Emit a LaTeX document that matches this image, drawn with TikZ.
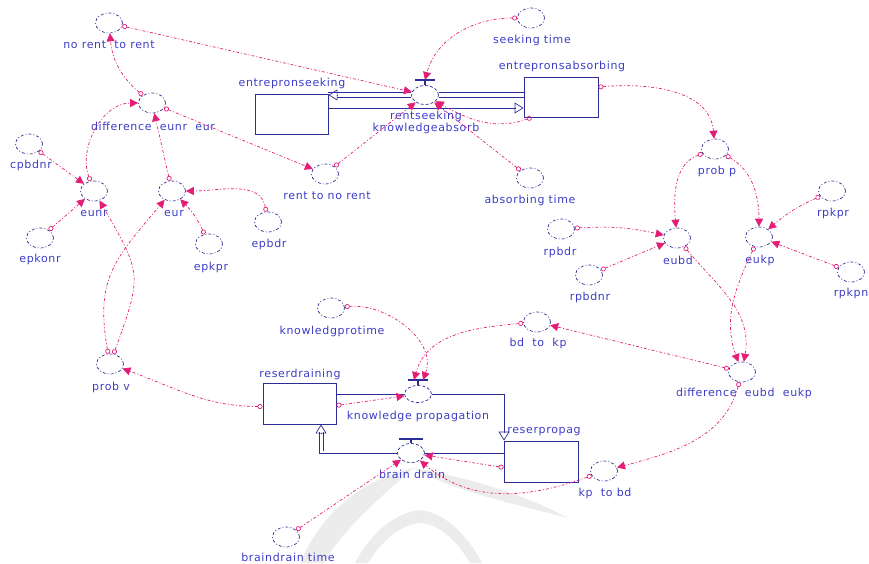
\documentclass[tikz,border=0pt]{standalone}
\usepackage{fontspec}
\setmainfont{DejaVu Sans}
\newfontfamily\lblfont[LetterSpace=6]{DejaVu Sans}
\usetikzlibrary{shapes.geometric,arrows.meta}
\definecolor{navy}{RGB}{45,45,150}
\definecolor{tblue}{RGB}{60,60,200}
\definecolor{cmag}{RGB}{228,30,118}
\definecolor{wmark}{RGB}{236,236,236}
\begin{document}
\begin{tikzpicture}[x=1pt,y=-1pt,
  aux/.style={ellipse, draw=navy, line width=0.7pt, dash pattern=on 3pt off 2pt on 1pt off 2pt, minimum width=27pt, minimum height=20pt, inner sep=0pt},
  valve/.style={ellipse, draw=navy, line width=0.7pt, dash pattern=on 3pt off 2pt, minimum width=27pt, minimum height=19pt, inner sep=0pt},
  stock/.style={rectangle, draw=navy, line width=0.9pt, inner sep=0pt},
  lbl/.style={text=tblue, font=\lblfont\fontsize{11}{13}\selectfont, inner sep=0pt, align=center},
  conn/.style={draw=cmag, line width=0.7pt, dash pattern=on 3pt off 2pt on 1pt off 2pt,
     {Circle[open,length=5pt,width=5pt,line width=0.7pt]}-{Triangle[length=8pt,width=8pt]}},
  pipe1/.style={draw=navy, line width=0.8pt},
  ftip/.style={draw=navy, line width=0.7pt, -{Triangle[open,length=9pt,width=11pt,line width=0.7pt]}},
  tbar/.style={draw=navy, line width=1.2pt},
  wm/.style={fill=wmark, draw=none}
]
\useasboundingbox (0,0) rectangle (869,563);

% faint watermark
\path[wm] (300,563) .. controls (325,505) and (370,478) .. (413,468)
   .. controls (390,490) and (345,525) .. (324,563) -- cycle;
\path[wm] (413,468) .. controls (460,476) and (520,492) .. (568,518)
   .. controls (520,505) and (455,492) .. (413,468) -- cycle;
\path[wm] (355,563) .. controls (372,530) and (398,512) .. (420,510)
   .. controls (442,512) and (466,532) .. (482,563) -- (470,563)
   .. controls (455,538) and (438,524) .. (420,523)
   .. controls (402,524) and (382,540) .. (368,563) -- cycle;

% stocks
\node[stock, minimum width=73pt, minimum height=40pt] (seek) at (291.5,114) {};
\node[lbl] (seek-l) at (292,83) {entrepronseeking};
\node[stock, minimum width=74pt, minimum height=40pt] (absorb) at (561,97) {};
\node[lbl] (absorb-l) at (562,66) {entrepronsabsorbing};
\node[stock, minimum width=73pt, minimum height=41pt] (resd) at (299.5,403.5) {};
\node[lbl] (resd-l) at (300,374) {reserdraining};
\node[stock, minimum width=74pt, minimum height=41pt] (resp) at (541,461.5) {};
\node[lbl] (resp-l) at (544,432) {reserpropag};

% valves
\node[valve] (v1) at (425,95) {};
\coordinate (v1t) at (425,80);
\draw[tbar] (v1.north) -- (v1t) ++(-10,0) -- ++(20,0);
\node[lbl] (v1-l) at (426,122) {rentseeking\\[-1pt]knowledgeabsorb};
\node[valve, minimum height=17pt] (v2) at (418,394) {};
\coordinate (v2t) at (418,380);
\draw[tbar] (v2.north) -- (v2t) ++(-10,0) -- ++(20,0);
\node[lbl] (v2-l) at (418,416) {knowledge propagation};
\node[valve] (v3) at (411,453) {};
\coordinate (v3t) at (411,439);
\draw[tbar] (v3.north) -- (v3t) ++(-12,0) -- ++(24,0);
\node[lbl] (v3-l) at (412,474) {brain drain};

% pipes: entrepronseeking <-> entrepronsabsorbing
\draw[pipe1] ([yshift=2.5pt]v1.west) -- ([yshift=2.5pt]v1.west -| seek.east);
\draw[pipe1] ([yshift=-2.5pt]v1.west) -- ([yshift=-2.5pt,xshift=9pt]v1.west -| seek.east);
\draw[ftip] ([xshift=9pt]v1.west -| seek.east) -- (v1.west -| seek.east);
\draw[pipe1] ([yshift=2.5pt]v1.east) -- ([yshift=2.5pt]v1.east -| absorb.west);
\draw[pipe1] ([yshift=-2.5pt]v1.east) -- ([yshift=-2.5pt]v1.east -| absorb.west);
\coordinate (lowpipe) at ([yshift=6pt]seek.east);
\draw[pipe1] (lowpipe) -- ([xshift=-9pt]lowpipe -| absorb.west);
\draw[ftip] ([xshift=-9pt]lowpipe -| absorb.west) -- (lowpipe -| absorb.west);
% knowledge propagation pipe
\draw[pipe1] (resd.east |- v2.west) -- (v2.west);
\coordinate (kpcorner) at (504,394);
\draw[pipe1] (v2.east) -- (kpcorner) -- ([yshift=9pt]kpcorner |- resp.north);
\draw[ftip] ([yshift=9pt]kpcorner |- resp.north) -- (kpcorner |- resp.north);
% brain drain pipe
\draw[pipe1] (resp.west |- v3.east) -- (v3.east);
\coordinate (bdcorner) at (319,453);
\draw[pipe1] (v3.west) -- (bdcorner) -- ([yshift=-8pt]bdcorner |- resd.south);
\draw[pipe1] ([xshift=4pt,yshift=2pt]bdcorner) -- ([xshift=4pt,yshift=-8pt]bdcorner |- resd.south);
\draw[ftip] ([xshift=2pt,yshift=-9pt]bdcorner |- resd.south) -- ([xshift=2pt]bdcorner |- resd.south);

% auxiliaries
\node[aux] (nrtr) at (109,23) {};
\node[lbl] (nrtr-l) at (109,45) {no rent\ \ to rent};
\node[aux] (seekt) at (531,18) {};
\node[lbl] (seekt-l) at (532,40) {seeking time};
\node[aux] (deur) at (152,103) {};
\node[lbl] (deur-l) at (153,126) {difference\ \ eunr\ \ eur};
\node[aux] (cpbdnr) at (29,144) {};
\node[lbl] (cpbdnr-l) at (31,165) {cpbdnr};
\node[aux] (eunr) at (94,191) {};
\node[lbl] (eunr-l) at (94,213) {eunr};
\node[aux] (eur) at (172,191) {};
\node[lbl] (eur-l) at (174,213) {eur};
\node[aux] (epkonr) at (40,238) {};
\node[lbl] (epkonr-l) at (40,259) {epkonr};
\node[aux] (epkpr) at (209,244) {};
\node[lbl] (epkpr-l) at (211,267) {epkpr};
\node[aux] (epbdr) at (268,222) {};
\node[lbl] (epbdr-l) at (269,244) {epbdr};
\node[aux] (rtnr) at (325,174) {};
\node[lbl] (rtnr-l) at (327,196) {rent to no rent};
\node[aux] (abst) at (530,178) {};
\node[lbl] (abst-l) at (530,200) {absorbing time};
\node[aux] (probp) at (715,149) {};
\node[lbl] (probp-l) at (717,171) {prob p};
\node[aux] (rpkpr) at (832,191) {};
\node[lbl] (rpkpr-l) at (833,213) {rpkpr};
\node[aux] (rpbdr) at (561,229) {};
\node[lbl] (rpbdr-l) at (560,252) {rpbdr};
\node[aux] (eubd) at (677,238) {};
\node[lbl] (eubd-l) at (678,260) {eubd};
\node[aux] (eukp) at (759,237) {};
\node[lbl] (eukp-l) at (760,260) {eukp};
\node[aux] (rpbdnr) at (589,275) {};
\node[lbl] (rpbdnr-l) at (590,297) {rpbdnr};
\node[aux] (rpkpn) at (851,272) {};
\node[lbl] (rpkpn-l) at (851,293) {rpkpn};
\node[aux] (kpt) at (331,308) {};
\node[lbl] (kpt-l) at (332,331) {knowledgprotime};
\node[aux] (bdkp) at (537,322) {};
\node[lbl] (bdkp-l) at (538,343) {bd\ \ to\ \ kp};
\node[aux] (probv) at (110,364) {};
\node[lbl] (probv-l) at (111,387) {prob v};
\node[aux] (dekp) at (742,372) {};
\node[lbl] (dekp-l) at (744,393) {difference\ \ eubd\ \ eukp};
\node[aux] (kpbd) at (604,471) {};
\node[lbl] (kpbd-l) at (605,493) {kp\ \ to bd};
\node[aux] (bdt) at (286,537) {};
\node[lbl] (bdt-l) at (288,557) {braindrain time};

% connectors
\draw[conn] (deur) to[out=140,in=-85] (nrtr);
\draw[conn] (nrtr) -- (v1);
\draw[conn] (deur) -- (rtnr);
\draw[conn] (rtnr) -- (v1);
\draw[conn] (seekt) to[out=180,in=75] (v1t);
\draw[conn] (abst) -- (v1);
\draw[conn] ([xshift=8pt]absorb.south west) to[out=-160,in=-30] (v1);
\draw[conn] ([yshift=10pt]absorb.east) to[out=5,in=95] (probp);
\draw[conn] (probp) to[out=200,in=95] (eubd);
\draw[conn] (probp) to[out=-30,in=90] (eukp);
\draw[conn] (rpbdr) to[bend left=8] (eubd);
\draw[conn] (rpbdnr) -- (eubd);
\draw[conn] (rpkpr) to[bend right=8] (eukp);
\draw[conn] (rpkpn) -- (eukp);
\draw[conn] (eubd) to[out=-50,in=80] (dekp);
\draw[conn] (eukp) to[out=-115,in=110] (dekp);
\draw[conn] (dekp) -- (bdkp);
\draw[conn] (dekp) to[out=-105,in=15] (kpbd);
\draw[conn] (bdkp) to[out=185,in=75] ([xshift=-4pt]v2t);
\draw[conn] (kpt) to[out=5,in=70] ([xshift=5pt]v2t);
\draw[conn] ([yshift=-2pt]resd.east) -- (v2);
\draw[conn] ([yshift=-3pt]resd.west) to[out=180,in=-20] (probv);
\draw[conn] (probv) to[out=70,in=-60,looseness=1.4] (eunr);
\draw[conn] (probv) to[out=100,in=-130,looseness=1.2] (eur);
\draw[conn] (cpbdnr) -- (eunr);
\draw[conn] (epkonr) -- (eunr);
\draw[conn] (eunr) to[out=110,in=180] (deur);
\draw[conn] (eur) -- (deur);
\draw[conn] (epbdr) to[out=100,in=0] (eur);
\draw[conn] (epkpr) to[bend right=10] (eur);
\draw[conn] ([yshift=-6pt]resp.west) -- (v3);
\draw[conn] (kpbd) to[out=200,in=-40] (v3);
\draw[conn] (bdt) -- (v3);
\end{tikzpicture}
\end{document}
